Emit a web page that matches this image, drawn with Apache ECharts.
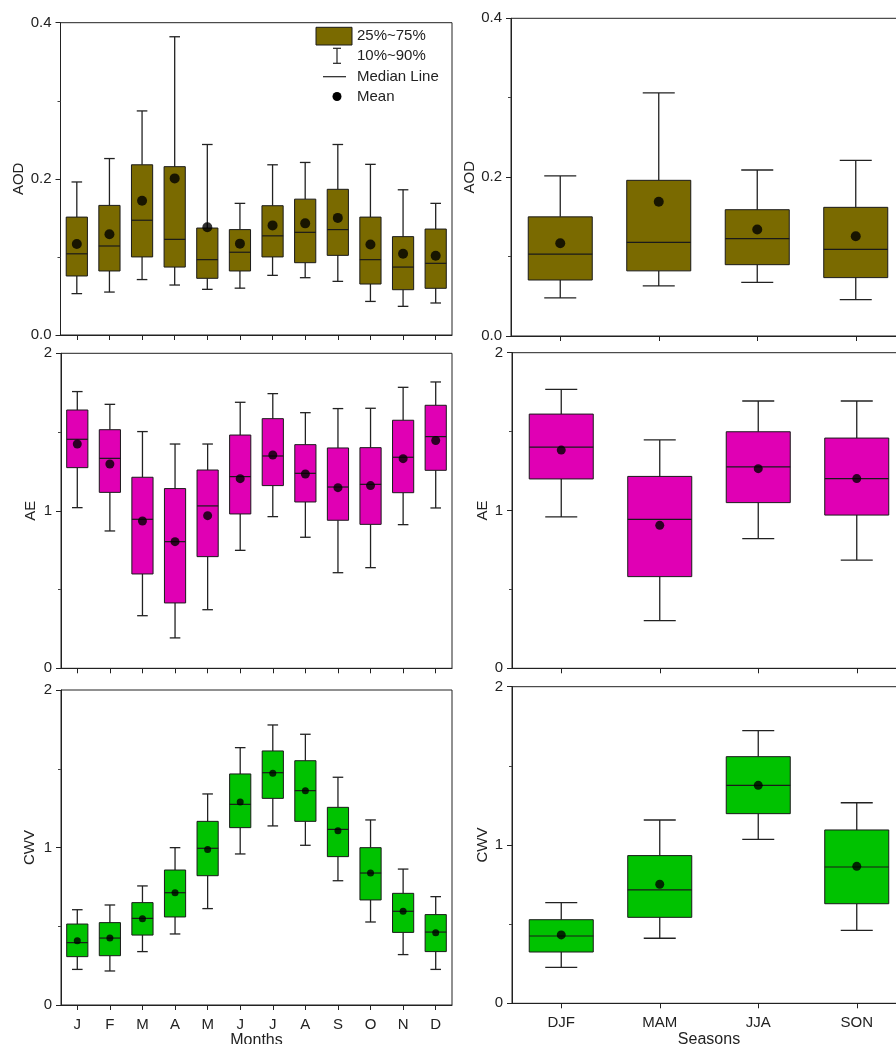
<!DOCTYPE html>
<html>
<head>
<meta charset="utf-8">
<script src="https://cdn.jsdelivr.net/npm/echarts@6/dist/echarts.min.js"></script>
<style>
html,body{margin:0;padding:0;background:#fff;}
#chart{width:896px;height:1044px;}
</style>
</head>
<body>
<div id="chart"></div>
<script>
// Categories
const monthLabels = ['J','F','M','A','M','J','J','A','S','O','N','D'];
const seasonLabels = ['DJF','MAM','JJA','SON'];

// Rows: [p10, q1, median, q3, p90, mean]
const aodMonthly = [
  [0.053, 0.0756, 0.104, 0.151, 0.196, 0.1165],
  [0.055, 0.082, 0.114, 0.166, 0.226, 0.129],
  [0.071, 0.100, 0.147, 0.218, 0.287, 0.172],
  [0.064, 0.087, 0.1225, 0.2156, 0.382, 0.2006],
  [0.0585, 0.0726, 0.0965, 0.137, 0.244, 0.138],
  [0.060, 0.082, 0.106, 0.135, 0.1686, 0.117],
  [0.0764, 0.100, 0.127, 0.1656, 0.218, 0.1404],
  [0.0734, 0.0926, 0.1315, 0.174, 0.221, 0.143],
  [0.0687, 0.102, 0.135, 0.1866, 0.244, 0.150],
  [0.043, 0.0653, 0.0965, 0.151, 0.2186, 0.116],
  [0.0367, 0.058, 0.087, 0.126, 0.186, 0.104],
  [0.041, 0.0598, 0.0918, 0.1357, 0.1686, 0.1016]
];
const aodSeasonal = [
  [0.048, 0.0705, 0.103, 0.150, 0.2015, 0.1167],
  [0.063, 0.082, 0.118, 0.196, 0.306, 0.169],
  [0.0676, 0.0898, 0.1226, 0.159, 0.209, 0.134],
  [0.0457, 0.0735, 0.109, 0.162, 0.221, 0.1255]
];
const aeMonthly = [
  [1.020, 1.274, 1.454, 1.640, 1.757, 1.424],
  [0.872, 1.117, 1.333, 1.515, 1.676, 1.297],
  [0.334, 0.599, 0.946, 1.213, 1.503, 0.935],
  [0.193, 0.415, 0.804, 1.141, 1.424, 0.804],
  [0.372, 0.709, 1.031, 1.259, 1.424, 0.969],
  [0.749, 0.980, 1.217, 1.481, 1.689, 1.204],
  [0.963, 1.160, 1.348, 1.585, 1.744, 1.354],
  [0.832, 1.056, 1.238, 1.420, 1.623, 1.234],
  [0.607, 0.940, 1.151, 1.399, 1.649, 1.147],
  [0.639, 0.914, 1.168, 1.401, 1.651, 1.160],
  [0.912, 1.115, 1.340, 1.575, 1.784, 1.331],
  [1.018, 1.257, 1.471, 1.670, 1.818, 1.446]
];
const aeSeasonal = [
  [0.959, 1.200, 1.402, 1.611, 1.768, 1.383],
  [0.302, 0.581, 0.944, 1.216, 1.447, 0.906],
  [0.822, 1.050, 1.276, 1.499, 1.694, 1.265],
  [0.686, 0.971, 1.202, 1.459, 1.694, 1.202]
];
const cwvMonthly = [
  [0.226, 0.307, 0.396, 0.514, 0.605, 0.408],
  [0.216, 0.313, 0.425, 0.523, 0.635, 0.425],
  [0.339, 0.444, 0.550, 0.650, 0.756, 0.548],
  [0.451, 0.559, 0.713, 0.857, 0.999, 0.713],
  [0.612, 0.821, 0.995, 1.166, 1.340, 0.988],
  [0.959, 1.126, 1.274, 1.467, 1.634, 1.289],
  [1.137, 1.312, 1.475, 1.613, 1.778, 1.471],
  [1.014, 1.166, 1.361, 1.551, 1.719, 1.361],
  [0.789, 0.942, 1.115, 1.255, 1.446, 1.107],
  [0.527, 0.667, 0.838, 0.999, 1.175, 0.838],
  [0.320, 0.461, 0.595, 0.709, 0.863, 0.595],
  [0.226, 0.339, 0.463, 0.574, 0.688, 0.459]
];
const cwvSeasonal = [
  [0.227, 0.324, 0.425, 0.528, 0.636, 0.432],
  [0.411, 0.543, 0.716, 0.933, 1.158, 0.752],
  [1.036, 1.198, 1.377, 1.558, 1.722, 1.377],
  [0.461, 0.629, 0.861, 1.095, 1.267, 0.865]
];

const FONT = 'Liberation Sans, Arial, sans-serif';
const OLIVE = '#7a6a00', MAGENTA = '#e000b4', GREEN = '#00c200';
const LINE = '#222';

const panels = [
  {rows: aodMonthly, cats: monthLabels, name: 'AOD', max: 0.4, interval: 0.2, dec: 1, color: OLIVE, dot: 10,
   grid: {left: 60.5, top: 22.7, width: 391.5, height: 312.3}, gap: 33, xname: ''},
  {rows: aodSeasonal, cats: seasonLabels, name: 'AOD', max: 0.4, interval: 0.2, dec: 1, color: OLIVE, dot: 10,
   grid: {left: 511, top: 18.3, width: 394, height: 317.7}, gap: 33, xname: ''},
  {rows: aeMonthly, cats: monthLabels, name: 'AE', max: 2, interval: 1, dec: 0, color: MAGENTA, dot: 9,
   grid: {left: 61, top: 353.3, width: 391, height: 315}, gap: 23, xname: ''},
  {rows: aeSeasonal, cats: seasonLabels, name: 'AE', max: 2, interval: 1, dec: 0, color: MAGENTA, dot: 9,
   grid: {left: 512, top: 352.7, width: 394, height: 315.6}, gap: 22, xname: ''},
  {rows: cwvMonthly, cats: monthLabels, name: 'CWV', max: 2, interval: 1, dec: 0, color: GREEN, dot: 7,
   grid: {left: 61, top: 690, width: 391, height: 315}, gap: 24, xname: 'Months'},
  {rows: cwvSeasonal, cats: seasonLabels, name: 'CWV', max: 2, interval: 1, dec: 0, color: GREEN, dot: 9,
   grid: {left: 512, top: 686.7, width: 394, height: 316.6}, gap: 21, xname: 'Seasons'}
];

function makeRender(color) {
  return function (params, api) {
    const x = api.value(0);
    const lo = api.coord([x, api.value(1)]);
    const q1 = api.coord([x, api.value(2)]);
    const md = api.coord([x, api.value(3)]);
    const q3 = api.coord([x, api.value(4)]);
    const hi = api.coord([x, api.value(5)]);
    const band = api.size([1, 0])[0];
    const bw = band * 0.65;
    const cw = bw * 0.5;
    const cx = q1[0];
    const ls = {stroke: LINE, lineWidth: 1.3};
    return {
      type: 'group',
      children: [
        {type: 'line', shape: {x1: cx, y1: hi[1], x2: cx, y2: q3[1]}, style: ls},
        {type: 'line', shape: {x1: cx, y1: q1[1], x2: cx, y2: lo[1]}, style: ls},
        {type: 'line', shape: {x1: cx - cw / 2, y1: hi[1], x2: cx + cw / 2, y2: hi[1]}, style: ls},
        {type: 'line', shape: {x1: cx - cw / 2, y1: lo[1], x2: cx + cw / 2, y2: lo[1]}, style: ls},
        {type: 'rect', shape: {x: cx - bw / 2, y: q3[1], width: bw, height: q1[1] - q3[1]},
         style: {fill: color, stroke: '#1a1a1a', lineWidth: 1}},
        {type: 'line', shape: {x1: cx - bw / 2, y1: md[1], x2: cx + bw / 2, y2: md[1]},
         style: {stroke: '#1a1a1a', lineWidth: 1.2}}
      ]
    };
  };
}

const grids = [], xAxes = [], yAxes = [], series = [];
panels.forEach((p, i) => {
  grids.push(Object.assign({show: true, borderColor: '#222', borderWidth: 1, backgroundColor: 'transparent',
    containLabel: false, outerBoundsMode: 'none'}, p.grid));
  xAxes.push({
    type: 'category', gridIndex: i, data: p.cats, boundaryGap: true,
    axisLine: {show: true, lineStyle: {color: '#222', width: 1}},
    axisTick: {show: true, alignWithLabel: true, inside: false, length: 5, lineStyle: {color: '#222'}},
    axisLabel: {show: p.xname !== '', color: '#222', fontSize: 15, fontFamily: FONT, margin: 12},
    name: p.xname, nameLocation: 'middle', nameGap: 28,
    nameTextStyle: {color: '#222', fontSize: 16, fontFamily: FONT},
    splitLine: {show: false}
  });
  yAxes.push({
    type: 'value', gridIndex: i, min: 0, max: p.max, interval: p.interval,
    axisLine: {show: true, lineStyle: {color: '#222', width: 1}},
    axisTick: {show: true, length: 5, lineStyle: {color: '#222'}},
    minorTick: {show: true, splitNumber: 2, length: 3, lineStyle: {color: '#444'}},
    axisLabel: {color: '#222', fontSize: 15, fontFamily: FONT, margin: 9,
      formatter: (v) => v.toFixed(p.dec)},
    splitLine: {show: false}, minorSplitLine: {show: false},
    name: p.name, nameLocation: 'middle', nameGap: p.gap, nameRotate: 90,
    nameTextStyle: {color: '#222', fontSize: 15, fontFamily: FONT}
  });
  series.push({
    type: 'custom', xAxisIndex: i, yAxisIndex: i, z: 2,
    renderItem: makeRender(p.color),
    encode: {x: 0, y: [1, 2, 3, 4, 5]},
    data: p.rows.map((r, k) => [k, r[0], r[1], r[2], r[3], r[4]])
  });
  series.push({
    type: 'scatter', xAxisIndex: i, yAxisIndex: i, z: 3,
    symbol: 'circle', symbolSize: p.dot,
    itemStyle: {color: '#000'},
    data: p.rows.map((r, k) => [k, r[5]])
  });
});

const legendText = {fill: '#222', fontSize: 15, fontFamily: FONT, verticalAlign: 'middle', align: 'left'};
const graphic = [
  {type: 'rect', shape: {x: 316, y: 27.3, width: 36, height: 17.7}, style: {fill: OLIVE, stroke: '#1a1a1a', lineWidth: 1}, z: 10},
  {type: 'text', x: 357, y: 36, style: Object.assign({text: '25%~75%'}, legendText), z: 10},
  {type: 'line', shape: {x1: 337, y1: 48.3, x2: 337, y2: 63.3}, style: {stroke: LINE, lineWidth: 1.2}, z: 10},
  {type: 'line', shape: {x1: 333, y1: 48.3, x2: 341, y2: 48.3}, style: {stroke: LINE, lineWidth: 1.2}, z: 10},
  {type: 'line', shape: {x1: 333, y1: 63.3, x2: 341, y2: 63.3}, style: {stroke: LINE, lineWidth: 1.2}, z: 10},
  {type: 'text', x: 357, y: 56, style: Object.assign({text: '10%~90%'}, legendText), z: 10},
  {type: 'line', shape: {x1: 323, y1: 76.7, x2: 346, y2: 76.7}, style: {stroke: LINE, lineWidth: 1.2}, z: 10},
  {type: 'text', x: 357, y: 76.7, style: Object.assign({text: 'Median Line'}, legendText), z: 10},
  {type: 'circle', shape: {cx: 337, cy: 96.5, r: 4.5}, style: {fill: '#000'}, z: 10},
  {type: 'text', x: 357, y: 97, style: Object.assign({text: 'Mean'}, legendText), z: 10}
];

const chart = echarts.init(document.getElementById('chart'), null, {renderer: 'canvas'});
chart.setOption({
  animation: false,
  backgroundColor: '#fff',
  grid: grids, xAxis: xAxes, yAxis: yAxes, series: series, graphic: graphic
});
</script>
</body>
</html>
